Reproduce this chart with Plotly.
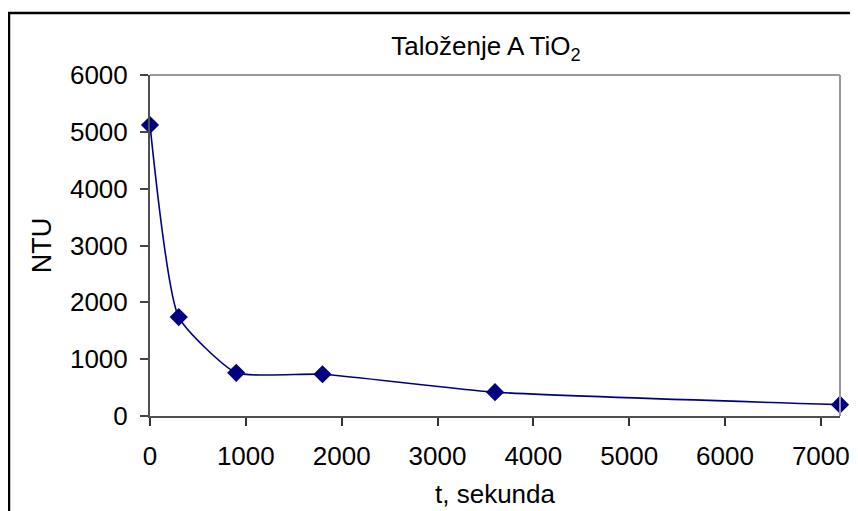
import plotly.graph_objects as go

t_seconds = [0, 300, 900, 1800, 3600, 7200]
ntu_values = [5120, 1740, 760, 735, 420, 200]
x_ticks = [0, 1000, 2000, 3000, 4000, 5000, 6000, 7000]
y_ticks = [0, 1000, 2000, 3000, 4000, 5000, 6000]

FONT = "Liberation Sans, Arial, sans-serif"
NAVY = "#000080"

# the page body has an 8px margin, so the figure is drawn at (8, 8)
OFF = 8
W, H = 858 - OFF, 511 - OFF
L, T = 150 - OFF, 75 - OFF
R = W - (840 - OFF)
B = H - (416 - OFF)
pw, ph = W - L - R, H - T - B

def px_x(p):
    return (p - OFF - L) / pw

def px_y(p):
    return (H - B - (p - OFF)) / ph

fig = go.Figure()
fig.add_trace(go.Scatter(
    x=t_seconds, y=ntu_values, mode="lines+markers",
    line=dict(color=NAVY, width=1.6, shape="spline", smoothing=0.5),
    marker=dict(symbol="diamond", size=14, color=NAVY),
    cliponaxis=False, showlegend=False,
))

fig.update_layout(
    width=W, height=H,
    margin=dict(l=L, r=R, t=T, b=B, pad=0, autoexpand=False),
    paper_bgcolor="white", plot_bgcolor="white",
    font=dict(family=FONT, size=26, color="black"),
    title=dict(text="Taloženje A TiO<sub>2</sub>", x=(486 - OFF) / W, xanchor="center",
               y=1 - (46 - OFF) / H, yanchor="middle", font=dict(size=26)),
    xaxis=dict(range=[0, 7200], tickvals=x_ticks, showgrid=False, zeroline=False,
               automargin=False,
               showline=True, linecolor="#505050", linewidth=2,
               ticks="outside", ticklen=8, tickwidth=1.5, tickcolor="#333",
               ticklabelstandoff=8,
               title=dict(text="t, sekunda", standoff=15, font=dict(size=26))),
    yaxis=dict(range=[0, 6000], tickvals=y_ticks, showgrid=False, zeroline=False,
               automargin=False,
               showline=True, linecolor="#505050", linewidth=2,
               ticks="outside", ticklen=8, tickwidth=1.5, tickcolor="#444",
               ticklabelstandoff=7,
               title=dict(text="NTU", standoff=11, font=dict(size=27))),
    shapes=[
        dict(type="line", xref="paper", yref="paper", x0=0, x1=1,
             y0=1, y1=1, line=dict(color="#999999", width=2)),
        dict(type="line", xref="paper", yref="paper", x0=1, x1=1,
             y0=0, y1=1, line=dict(color="#999999", width=2)),
        dict(type="rect", xref="paper", yref="paper", x0=px_x(9), x1=px_x(880),
             y0=px_y(540), y1=px_y(13), line=dict(color="black", width=2.5),
             layer="below"),
    ],
)

fig.write_html("out.html")
